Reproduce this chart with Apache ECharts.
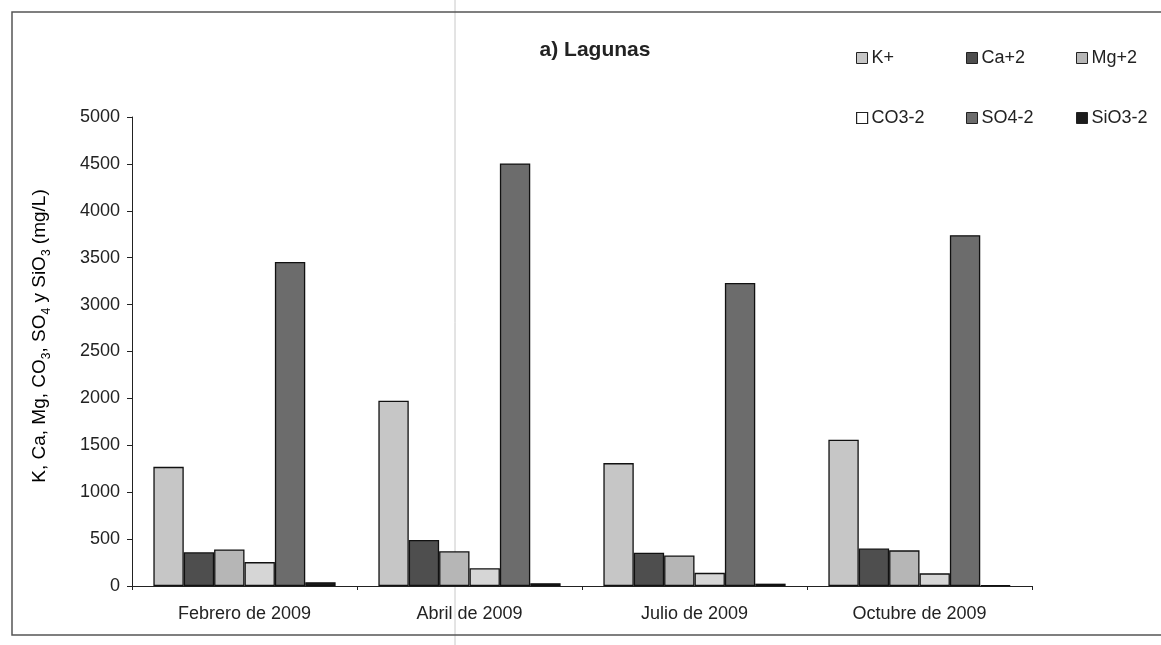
<!DOCTYPE html>
<html>
<head>
<meta charset="utf-8">
<script src="https://cdn.jsdelivr.net/npm/echarts@6/dist/echarts.min.js"></script>
<style>
html,body{margin:0;padding:0;background:#fff;}
#c{width:1161px;height:645px;}
</style>
</head>
<body>
<div id="c"></div>
<script>
var categories = ['Febrero de 2009', 'Abril de 2009', 'Julio de 2009', 'Octubre de 2009'];
var seriesNames = ['K+', 'Ca+2', 'Mg+2', 'CO3-2', 'SO4-2', 'SiO3-2'];
var kPlus  = [1270, 1975, 1310, 1560];
var caPlus = [360, 490, 355, 400];
var mgPlus = [390, 370, 325, 380];
var co3    = [255, 190, 140, 135];
var so4    = [3455, 4505, 3230, 3740];
var sio3   = [40, 30, 25, 8];
var yTicks = [0, 500, 1000, 1500, 2000, 2500, 3000, 3500, 4000, 4500, 5000];

var values = [kPlus, caPlus, mgPlus, co3, so4, sio3];
var colors = ['#c6c6c6', '#4e4e4e', '#b6b6b6', '#d6d6d6', '#6c6c6c', '#1c1c1c'];
var FONT = 'Liberation Sans, Arial, sans-serif';

var chart = echarts.init(document.getElementById('c'));
var series = seriesNames.map(function (n, i) {
  return {
    name: n,
    type: 'bar',
    data: values[i],
    barGap: '0%',
    barCategoryGap: '19%',
    itemStyle: { color: colors[i], borderColor: '#111', borderWidth: 1.3 }
  };
});

var legendPos = [[856, 49], [966, 49], [1076, 49], [856, 109], [966, 109], [1076, 109]];
var legends = seriesNames.map(function (n, i) {
  var item = { name: n };
  if (n === 'CO3-2') item.itemStyle = { color: '#ffffff', borderColor: '#222', borderWidth: 1.2 };
  return {
    data: [item], left: legendPos[i][0], top: legendPos[i][1], padding: 0,
    icon: 'rect', itemWidth: 11, itemHeight: 11, itemGap: 0,
    textStyle: { fontFamily: FONT, fontSize: 18, color: '#222', padding: [0, 0, 0, -1] },
    itemStyle: { borderColor: '#222', borderWidth: 1 }
  };
});

chart.setOption({
  animation: false,
  backgroundColor: '#fff',
  title: {
    text: 'a) Lagunas',
    left: 590, top: 35,
    textAlign: 'center',
    textStyle: { fontFamily: FONT, fontSize: 21, fontWeight: 'bold', color: '#222' }
  },
  legend: legends,
  grid: { left: 132, right: 129, top: 117, bottom: 59, containLabel: false },
  xAxis: {
    type: 'category',
    data: categories,
    axisLine: { lineStyle: { color: '#222', width: 1 } },
    axisTick: { show: true, alignWithLabel: false, length: 4, lineStyle: { color: '#222' } },
    axisLabel: { fontFamily: FONT, fontSize: 18, color: '#222', margin: 19 }
  },
  yAxis: {
    type: 'value',
    min: yTicks[0], max: yTicks[yTicks.length - 1], interval: 500,
    axisLine: { show: true, lineStyle: { color: '#222', width: 1 } },
    axisTick: { show: true, length: 5, lineStyle: { color: '#222' } },
    splitLine: { show: false },
    axisLabel: { fontFamily: FONT, fontSize: 18, color: '#222', margin: 12, formatter: function (v) { return String(v); } }
  },
  series: series,
  graphic: [
    { type: 'rect', shape: { x: 12, y: 12, width: 1160, height: 623 }, style: { fill: 'none', stroke: '#555', lineWidth: 1.5 }, z: 100, silent: true },
    { type: 'line', shape: { x1: 455, y1: 0, x2: 455, y2: 645 }, style: { stroke: '#c8c8c8', lineWidth: 1 }, z: 0, silent: true },
    {
      type: 'text', x: 40, y: 336, rotation: Math.PI / 2, z: 100,
      style: {
        text: '{n|K, Ca, Mg, CO}{s|3}{n|, SO}{s|4}{n| y SiO}{s|3}{n| (mg/L)}',
        align: 'center', verticalAlign: 'middle',
        rich: {
          n: { fontFamily: FONT, fontSize: 19, color: '#222', lineHeight: 26, verticalAlign: 'middle' },
          s: { fontFamily: FONT, fontSize: 12, color: '#222', lineHeight: 16, verticalAlign: 'bottom' }
        }
      }
    }
  ]
});
</script>
</body>
</html>
